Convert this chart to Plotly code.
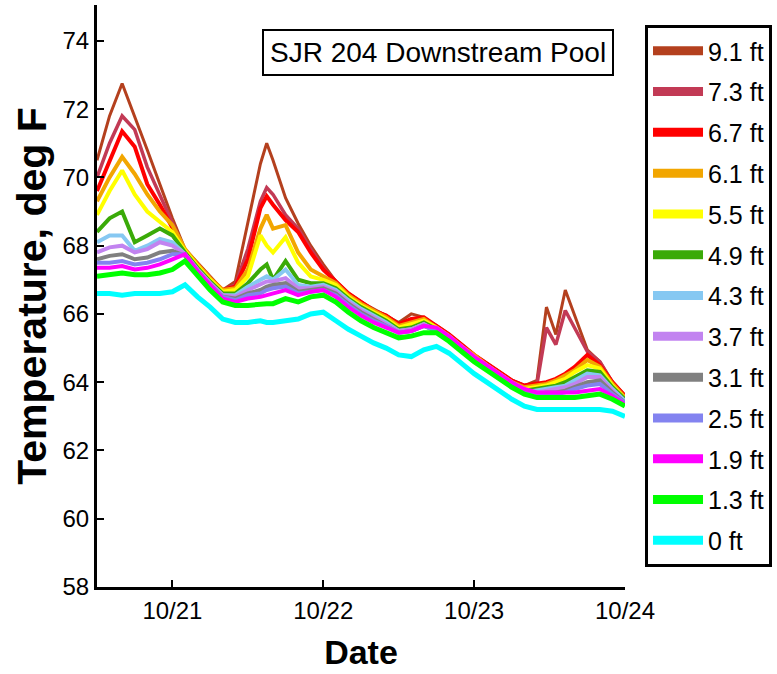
import pandas as pd
import plotly.graph_objects as go

# Sample times, hours after 10/20 12:00
start = pd.Timestamp("2009-10-20 12:00")
hours = [0, 2, 4, 6, 8, 10, 12, 14, 16, 18,
         20, 22, 24, 26, 27, 28, 30, 32, 34, 36,
         38, 40, 42, 44, 46, 48, 50, 52, 54, 56,
         58, 60, 62, 64, 66, 68, 70, 71.5, 73, 74.5,
         76, 78, 80, 82, 84]

depths = ["9.1 ft", "7.3 ft", "6.7 ft", "6.1 ft", "5.5 ft", "4.9 ft", "4.3 ft",
          "3.7 ft", "3.1 ft", "2.5 ft", "1.9 ft", "1.3 ft", "0 ft"]

# Water temperature (deg F) at each depth above the bed
t91 = [70.5, 71.8, 72.75, 71.8, 70.8, 69.8, 68.8, 67.9, 67.5, 67.1,
       66.7, 66.95, 68.7, 70.4, 71.0, 70.5, 69.4, 68.65, 68.0, 67.45,
       66.95, 66.6, 66.35, 66.15, 65.95, 65.75, 66.0, 65.9, 65.65, 65.4,
       65.1, 64.8, 64.55, 64.3, 64.05, 63.9, 64.05, 66.2, 65.4, 66.7,
       65.95, 64.95, 64.6, 64.0, 63.6]
t73 = [70.0, 71.0, 71.8, 71.4, 70.3, 69.5, 68.7, 67.85, 67.45, 67.05,
       66.7, 66.85, 67.9, 69.3, 69.7, 69.5, 68.9, 68.5, 67.9, 67.35,
       66.95, 66.6, 66.35, 66.1, 65.95, 65.7, 65.8, 65.85, 65.65, 65.4,
       65.1, 64.8, 64.55, 64.3, 64.05, 63.9, 63.95, 65.6, 65.1, 66.1,
       65.6, 64.9, 64.6, 64.0, 63.6]
t67 = [69.6, 70.5, 71.35, 70.9, 69.8, 69.2, 68.5, 67.85, 67.45, 67.05,
       66.7, 66.8, 67.6, 69.1, 69.45, 69.2, 68.75, 68.4, 67.8, 67.3,
       66.95, 66.6, 66.35, 66.1, 65.95, 65.7, 65.85, 65.9, 65.65, 65.4,
       65.1, 64.8, 64.55, 64.3, 64.05, 63.9, 63.95, 64.0, 64.1, 64.25,
       64.45, 64.8, 64.5, 64.0, 63.6]
t61 = [69.3, 70.0, 70.6, 70.1, 69.5, 69.0, 68.6, 67.9, 67.45, 67.05,
       66.7, 66.75, 67.3, 68.5, 68.9, 68.5, 68.6, 67.8, 67.3, 67.1,
       66.9, 66.55, 66.3, 66.1, 65.9, 65.65, 65.75, 65.85, 65.6, 65.35,
       65.05, 64.8, 64.5, 64.25, 64.0, 63.85, 63.9, 63.95, 64.05, 64.2,
       64.35, 64.65, 64.45, 63.95, 63.55]
t55 = [68.9, 69.6, 70.2, 69.5, 69.0, 68.7, 68.4, 67.85, 67.4, 67.0,
       66.65, 66.7, 67.1, 68.3, 68.0, 67.8, 68.25, 67.5, 67.1, 67.0,
       66.85, 66.5, 66.25, 66.05, 65.85, 65.6, 65.7, 65.8, 65.6, 65.35,
       65.05, 64.75, 64.5, 64.25, 64.0, 63.8, 63.85, 63.9, 64.0, 64.1,
       64.3, 64.5, 64.4, 63.9, 63.5]
t49 = [68.4, 68.8, 69.0, 68.1, 68.3, 68.5, 68.3, 67.8, 67.35, 66.95,
       66.6, 66.6, 66.9, 67.3, 67.45, 67.0, 67.55, 67.0, 66.9, 66.9,
       66.75, 66.45, 66.2, 66.0, 65.8, 65.55, 65.6, 65.75, 65.55, 65.3,
       65.0, 64.7, 64.45, 64.2, 63.95, 63.75, 63.8, 63.85, 63.9, 64.0,
       64.15, 64.35, 64.3, 63.85, 63.5]
t43 = [68.1, 68.3, 68.3, 67.85, 68.0, 68.2, 68.1, 67.75, 67.3, 66.9,
       66.55, 66.55, 66.8, 67.0, 67.1, 67.0, 67.3, 66.85, 66.8, 66.85,
       66.7, 66.4, 66.15, 65.95, 65.75, 65.5, 65.55, 65.7, 65.5, 65.25,
       64.95, 64.65, 64.4, 64.15, 63.9, 63.7, 63.75, 63.8, 63.85, 63.9,
       64.05, 64.25, 64.2, 63.8, 63.45]
t37 = [67.8, 67.95, 68.0, 67.8, 67.9, 68.1, 68.0, 67.75, 67.3, 66.9,
       66.55, 66.5, 66.7, 66.85, 66.95, 66.95, 67.05, 66.75, 66.75, 66.8,
       66.65, 66.35, 66.1, 65.9, 65.7, 65.5, 65.55, 65.7, 65.5, 65.25,
       64.95, 64.65, 64.4, 64.15, 63.9, 63.7, 63.7, 63.75, 63.8, 63.85,
       63.95, 64.15, 64.15, 63.75, 63.4]
t31 = [67.6, 67.7, 67.75, 67.6, 67.65, 67.8, 67.85, 67.7, 67.25, 66.85,
       66.5, 66.45, 66.6, 66.7, 66.8, 66.85, 66.9, 66.65, 66.7, 66.75,
       66.6, 66.3, 66.05, 65.85, 65.65, 65.45, 65.5, 65.65, 65.5, 65.25,
       64.95, 64.65, 64.4, 64.15, 63.9, 63.7, 63.65, 63.7, 63.7, 63.75,
       63.85, 64.0, 64.05, 63.7, 63.4]
t25 = [67.5, 67.5, 67.55, 67.45, 67.5, 67.6, 67.75, 67.75, 67.25, 66.85,
       66.5, 66.4, 66.55, 66.6, 66.7, 66.75, 66.8, 66.6, 66.65, 66.7,
       66.55, 66.25, 66.0, 65.8, 65.65, 65.45, 65.5, 65.65, 65.5, 65.25,
       64.95, 64.65, 64.4, 64.15, 63.9, 63.7, 63.65, 63.65, 63.65, 63.7,
       63.8, 63.9, 63.95, 63.65, 63.4]
t19 = [67.35, 67.35, 67.4, 67.3, 67.35, 67.45, 67.6, 67.75, 67.25, 66.85,
       66.45, 66.35, 66.45, 66.5, 66.55, 66.6, 66.7, 66.55, 66.65, 66.7,
       66.5, 66.2, 65.95, 65.75, 65.6, 65.45, 65.5, 65.65, 65.6, 65.35,
       65.05, 64.75, 64.5, 64.25, 64.0, 63.8, 63.7, 63.7, 63.7, 63.7,
       63.7, 63.75, 63.8, 63.6, 63.35]
t13 = [67.1, 67.15, 67.2, 67.15, 67.15, 67.2, 67.3, 67.55, 67.1, 66.7,
       66.35, 66.25, 66.25, 66.3, 66.3, 66.3, 66.45, 66.35, 66.5, 66.55,
       66.35, 66.05, 65.8, 65.6, 65.45, 65.3, 65.35, 65.45, 65.45, 65.2,
       64.9, 64.6, 64.35, 64.1, 63.85, 63.65, 63.55, 63.55, 63.55, 63.55,
       63.55, 63.6, 63.65, 63.5, 63.3]
t0 = [66.6, 66.6, 66.55, 66.6, 66.6, 66.6, 66.65, 66.85, 66.5, 66.2,
      65.85, 65.75, 65.75, 65.8, 65.75, 65.75, 65.8, 65.85, 66.0, 66.05,
      65.8, 65.55, 65.35, 65.15, 65.0, 64.8, 64.75, 64.95, 65.05, 64.85,
      64.55, 64.25, 64.0, 63.75, 63.5, 63.3, 63.2, 63.2, 63.2, 63.2,
      63.2, 63.2, 63.2, 63.15, 63.0]

series = [t91, t73, t67, t61, t55, t49, t43, t37, t31, t25, t19, t13, t0]
colors = ["#B4401E", "#C23A55", "#FF0000", "#F2A600", "#FFFF00", "#3AAA08",
          "#86C8F2", "#C283F0", "#808080", "#8383F0", "#FF00FF", "#00FF00", "#00FFFF"]
widths = [3, 3.5, 4, 4, 4, 4, 4, 4, 4, 4, 4, 5, 5]

y_ticks = [58, 60, 62, 64, 66, 68, 70, 72, 74]
x_ticks = ["2009-10-21", "2009-10-22", "2009-10-23", "2009-10-24"]
x_ticktext = ["10/21", "10/22", "10/23", "10/24"]

times = [start + pd.Timedelta(hours=h) for h in hours]

fig = go.Figure()
for name, vals, col, w in zip(depths, series, colors, widths):
    fig.add_trace(go.Scatter(x=times, y=vals, mode="lines", name=name,
                             line=dict(color=col, width=w), showlegend=False,
                             hoverinfo="skip"))
# legend keys (thicker line samples), one group per depth so the gap applies
for name, col in zip(depths, colors):
    fig.add_trace(go.Scatter(x=[None], y=[None], mode="lines", name=name,
                             line=dict(color=col, width=9), legendgroup=name,
                             showlegend=True))

BASE = "Liberation Sans, Arial, sans-serif"
fig.update_layout(
    width=777, height=674,
    margin=dict(l=97, r=152, t=5, b=87, autoexpand=False),
    paper_bgcolor="white", plot_bgcolor="white",
    font=dict(family=BASE, color="black", size=24),
    showlegend=True,
    legend=dict(x=1.0379, y=0.9656, xanchor="left", yanchor="top",
                bordercolor="black", borderwidth=3, bgcolor="white",
                font=dict(family=BASE, size=25, color="black"),
                itemwidth=50, tracegroupgap=5.3, traceorder="grouped"),
    xaxis=dict(type="date", range=["2009-10-20 12:00", "2009-10-24 00:00"],
               tickvals=x_ticks, ticktext=x_ticktext,
               showline=True, linecolor="black", linewidth=3,
               ticks="inside", ticklen=7, tickwidth=2, tickcolor="black",
               showgrid=False, zeroline=False,
               tickfont=dict(size=24),
               title=dict(text="<b>Date</b>", font=dict(size=34), standoff=18)),
    yaxis=dict(range=[58, 75.05], tickvals=y_ticks,
               showline=True, linecolor="black", linewidth=3,
               ticks="inside", ticklen=7, tickwidth=2, tickcolor="black",
               showgrid=False, zeroline=False,
               tickfont=dict(size=24),
               title=dict(text="<b>Temperature, deg F</b>", font=dict(size=41), standoff=4)),
    annotations=[dict(text="SJR 204 Downstream Pool", xref="paper", yref="paper",
                      x=0.646, y=0.919, xanchor="center", yanchor="middle",
                      showarrow=False, bordercolor="black", borderwidth=2,
                      borderpad=6, bgcolor="white",
                      font=dict(family=BASE, size=28))],
)

fig.write_html("out.html")
